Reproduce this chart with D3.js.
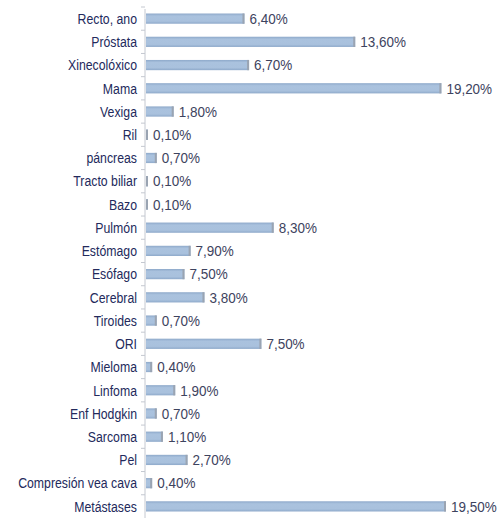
<!DOCTYPE html>
<html>
<head>
<meta charset="utf-8">
<script src="https://cdn.jsdelivr.net/npm/d3@7"></script>
<style>
  body { margin: 0; background: #fff; }
  svg text { font-family: "Liberation Sans", Arial, sans-serif; }
</style>
</head>
<body>
<svg id="chart" width="501" height="518"></svg>
<script>
// DATA
const categories = ['Recto, ano', 'Próstata', 'Xinecolóxico', 'Mama', 'Vexiga', 'Ril', 'páncreas',
  'Tracto biliar', 'Bazo', 'Pulmón', 'Estómago', 'Esófago', 'Cerebral', 'Tiroides', 'ORI',
  'Mieloma', 'Linfoma', 'Enf Hodgkin', 'Sarcoma', 'Pel', 'Compresión vea cava', 'Metástases']

// bar lengths as drawn (%)
const values = [6.4, 13.6, 6.7, 19.2, 1.8, 0.1, 0.7, 0.1, 0.1, 8.3, 2.9, 2.5, 3.8, 0.7, 7.5,
  0.4, 1.9, 0.7, 1.1, 2.7, 0.4, 19.5]

// labels as printed next to the bars
const valueLabels = ['6,40%', '13,60%', '6,70%', '19,20%', '1,80%', '0,10%', '0,70%', '0,10%', '0,10%',
  '8,30%', '7,90%', '7,50%', '3,80%', '0,70%', '7,50%', '0,40%', '1,90%', '0,70%', '1,10%', '2,70%',
  '0,40%', '19,50%']

const rows = categories.map((c, i) => ({ cat: c, value: values[i], label: valueLabels[i] }))

// SVG, SCALES
const svg = d3.select('#chart')
const margin = { top: 7, right: 20, bottom: 0, left: 145 }
const width = 501, height = 518

const x = d3.scaleLinear()
  .domain([0, 19.5])
  .range([margin.left + 1, 446])

const y = d3.scaleBand()
  .domain(categories)
  .range([margin.top, height - margin.bottom])
  .paddingInner(0.56)
  .paddingOuter(0.28)

const defs = svg.append('defs')
const grad = defs.append('linearGradient')
  .attr('id', 'barGrad').attr('x1', 0).attr('x2', 0).attr('y1', 0).attr('y2', 1)
grad.append('stop').attr('offset', '0%').attr('stop-color', '#8ea9ca')
grad.append('stop').attr('offset', '25%').attr('stop-color', '#aac2de')
grad.append('stop').attr('offset', '75%').attr('stop-color', '#a9c1dd')
grad.append('stop').attr('offset', '100%').attr('stop-color', '#8ea9ca')

// y axis, labels drawn in squeezed groups (original uses a condensed face)
const yAxis = d3.axisLeft(y).tickSize(0).tickPadding(8)
const axisG = svg.append('g')
  .attr('transform', `translate(${margin.left},0)`)
  .call(yAxis)
axisG.select('.domain').remove()
axisG.selectAll('.tick text').remove()
axisG.selectAll('.tick')
  .append('g')
  .attr('transform', 'translate(-8,0) scale(0.82,1)')
  .append('text')
  .attr('text-anchor', 'end')
  .attr('dy', '0.35em')
  .attr('fill', '#232a5c')
  .attr('font-size', 15)
  .text(d => d)

svg.append('line')
  .attr('x1', margin.left).attr('x2', margin.left)
  .attr('y1', 9).attr('y2', height)
  .attr('stroke', '#c4c8d0')

// small tick marks between rows
const step = y.step()
svg.selectAll('.tk')
  .data(categories)
  .join('line')
  .attr('class', 'tk')
  .attr('x1', margin.left - 4).attr('x2', margin.left)
  .attr('y1', d => y(d) - (step - y.bandwidth()) / 2)
  .attr('y2', d => y(d) - (step - y.bandwidth()) / 2)
  .attr('stroke', '#c4c8d0')

// bars
const barEnd = d => x(0) + Math.max(2, x(d.value) - x(0))

svg.selectAll('.bar')
  .data(rows)
  .join('rect')
  .attr('class', 'bar')
  .attr('x', x(0))
  .attr('y', d => y(d.cat))
  .attr('width', d => barEnd(d) - x(0))
  .attr('height', y.bandwidth())
  .attr('fill', 'url(#barGrad)')

// end caps
svg.selectAll('.cap')
  .data(rows)
  .join('rect')
  .attr('class', 'cap')
  .attr('x', d => barEnd(d) - 2)
  .attr('y', d => y(d.cat))
  .attr('width', 2)
  .attr('height', y.bandwidth())
  .attr('fill', '#9aa4b2')

// value labels
svg.selectAll('.val')
  .data(rows)
  .join('g')
  .attr('class', 'val')
  .attr('transform', d => `translate(${barEnd(d) + 5},${y(d.cat) + y.bandwidth() / 2}) scale(0.9,1)`)
  .append('text')
  .attr('dy', '0.35em')
  .attr('fill', '#3d435e')
  .attr('font-size', 15)
  .text(d => d.label)
</script>
</body>
</html>
